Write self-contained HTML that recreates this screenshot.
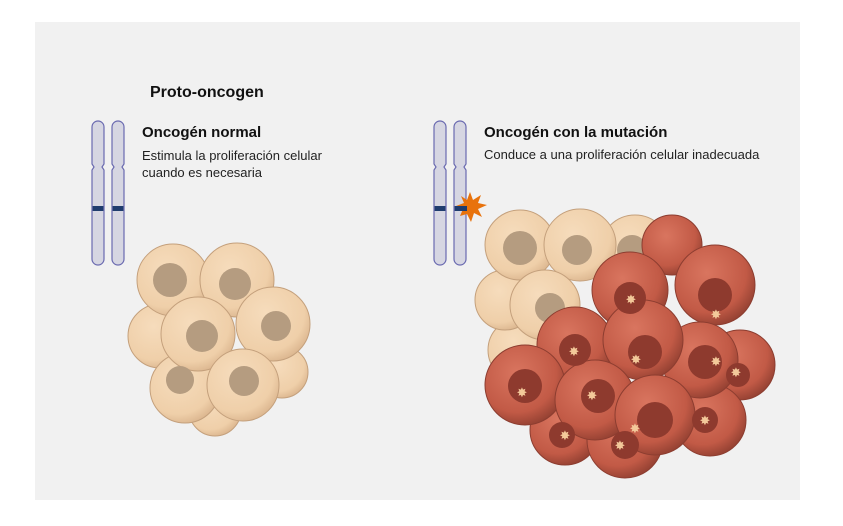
<!DOCTYPE html>
<html><head><meta charset="utf-8"><style>
html,body{margin:0;padding:0;background:#fff;}
body{width:843px;height:526px;position:relative;overflow:hidden;font-family:"Liberation Sans",sans-serif;}
.panel{position:absolute;left:35px;top:22px;width:765px;height:478px;background:#f1f1f1;}
.t{position:absolute;color:#111;}
</style></head><body>
<div class="panel"></div>
<div class="t" style="left:150px;top:84px;font-size:16px;font-weight:bold;">Proto-oncogen</div>
<div class="t" style="left:142px;top:124px;font-size:15px;font-weight:bold;">Oncogén normal</div>
<div class="t" style="left:142px;top:147px;font-size:13px;line-height:17px;color:#222;">Estimula la proliferación celular<br>cuando es necesaria</div>
<div class="t" style="left:484px;top:124px;font-size:15px;font-weight:bold;">Oncogén con la mutación</div>
<div class="t" style="left:484px;top:147px;font-size:13px;color:#222;">Conduce a una proliferación celular inadecuada</div>
<svg width="843" height="526" style="position:absolute;left:0;top:0">
<defs>
<radialGradient id="b" cx="0.4" cy="0.35" r="0.7"><stop offset="0" stop-color="#f6dcbc"/><stop offset="0.75" stop-color="#efcfa9"/><stop offset="1" stop-color="#d9b38c"/></radialGradient>
<radialGradient id="r" cx="0.4" cy="0.35" r="0.7"><stop offset="0" stop-color="#d9755f"/><stop offset="0.7" stop-color="#c25a46"/><stop offset="1" stop-color="#8f3e30"/></radialGradient>
<g id="ch"><path d="M0,6 A6,6 0 0 1 12,6 V43 L10,46 L12,49 V138 A6,6 0 0 1 0,138 V49 L2,46 L0,43 Z" fill="#d6d6e2" stroke="#6a6ab0" stroke-width="1.2"/><rect x="0.6" y="85" width="10.8" height="5" fill="#1f3c6e"/></g>
</defs>
<use href="#ch" x="92" y="121"/><use href="#ch" x="112" y="121"/>
<use href="#ch" x="434" y="121"/><use href="#ch" x="454" y="121"/>
<polygon points="470,192 473,200 481,195 478,203 487,205 478,209 482,217 474,213 471,222 467,214 460,216 463,209 456,206 464,203 461,196 467,200" fill="#e8720c"/>
<rect x="455" y="206" width="12" height="5" fill="#1f3c6e"/>
<g stroke="#c4a07c" stroke-width="1">
<g fill="url(#b)">
<circle cx="215" cy="410" r="26"/><circle cx="282" cy="372" r="26"/><circle cx="160" cy="336" r="32"/><circle cx="185" cy="388" r="35"/>
<circle cx="173" cy="280" r="36"/><circle cx="237" cy="280" r="37"/><circle cx="273" cy="324" r="37"/><circle cx="198" cy="334" r="37"/><circle cx="243" cy="385" r="36"/>
</g></g>
<g fill="#b59c80">
<circle cx="170" cy="280" r="17"/><circle cx="235" cy="284" r="16"/><circle cx="276" cy="326" r="15"/><circle cx="202" cy="336" r="16"/><circle cx="244" cy="381" r="15"/><circle cx="180" cy="380" r="14"/>
</g>
<g stroke="#c4a07c" stroke-width="1" fill="url(#b)">
<circle cx="520" cy="350" r="32"/><circle cx="635" cy="250" r="35"/><circle cx="505" cy="300" r="30"/>
<circle cx="520" cy="245" r="35"/><circle cx="580" cy="245" r="36"/><circle cx="545" cy="305" r="35"/>
</g>
<g fill="#b59c80"><circle cx="520" cy="248" r="17"/><circle cx="577" cy="250" r="15"/><circle cx="550" cy="308" r="15"/><circle cx="632" cy="250" r="15"/></g>
<g stroke="#8c3d30" stroke-width="1" fill="url(#r)">
<circle cx="672" cy="245" r="30"/><circle cx="715" cy="285" r="40"/><circle cx="630" cy="290" r="38"/>
<circle cx="740" cy="365" r="35"/><circle cx="710" cy="420" r="36"/><circle cx="565" cy="430" r="35"/><circle cx="625" cy="440" r="38"/>
<circle cx="575" cy="345" r="38"/><circle cx="700" cy="360" r="38"/><circle cx="643" cy="340" r="40"/>
<circle cx="525" cy="385" r="40"/><circle cx="595" cy="400" r="40"/><circle cx="655" cy="415" r="40"/>
</g>
<g fill="#8e3a2e">
<circle cx="715" cy="295" r="17"/><circle cx="630" cy="298" r="16"/><circle cx="575" cy="350" r="16"/><circle cx="645" cy="352" r="17"/><circle cx="705" cy="362" r="17"/><circle cx="738" cy="375" r="12"/>
<circle cx="525" cy="386" r="17"/><circle cx="598" cy="396" r="17"/><circle cx="655" cy="420" r="18"/><circle cx="705" cy="420" r="13"/><circle cx="562" cy="435" r="13"/><circle cx="625" cy="445" r="14"/>
</g>
<g fill="#f3c99a" font-size="13" font-family="DejaVu Sans" text-anchor="middle">
<text x="631" y="304">✸</text><text x="716" y="319">✸</text><text x="574" y="356">✸</text><text x="636" y="364">✸</text><text x="716" y="366">✸</text><text x="736" y="377">✸</text>
<text x="522" y="397">✸</text><text x="592" y="400">✸</text><text x="635" y="433">✸</text><text x="705" y="425">✸</text><text x="565" y="440">✸</text><text x="620" y="450">✸</text>
</g>
</svg>
</body></html>
